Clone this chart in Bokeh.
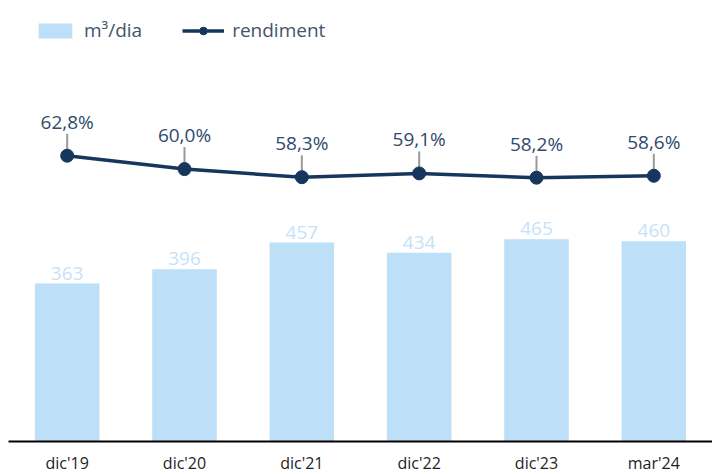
from bokeh.plotting import figure
from bokeh.models import Range1d, FactorRange, ColumnDataSource
from bokeh.core.properties import value
from bokeh.embed import file_html
from bokeh.resources import INLINE

categories = ["dic'19", "dic'20", "dic'21", "dic'22", "dic'23", "mar'24"]
volumes = [363, 396, 457, 434, 465, 460]
rendiment = [62.8, 60.0, 58.3, 59.1, 58.2, 58.6]

FONT = "Open Sans"
BAR_COLOR = "#bddff8"
BAR_LABEL_COLOR = "#c6e2f8"
LINE_COLOR = "#17365d"
PCT_COLOR = "#2f4a6c"
LEGEND_COLOR = "#44546a"

src = ColumnDataSource(dict(
    cat=categories,
    vol=volumes,
    vol_txt=[str(v) for v in volumes],
    r=rendiment,
    r_top=[v + 4.6 for v in rendiment],
    r_txt=[("%.1f" % v).replace(".", ",") + "%" for v in rendiment],
))

p = figure(x_range=FactorRange(*categories), y_range=Range1d(0, 995),
           frame_width=704, frame_height=433, min_border=0,
           min_border_left=8, min_border_top=8,
           y_axis_location=None, toolbar_location=None, output_backend="svg")
p.extra_y_ranges = {"r": Range1d(3.0, 93.6)}

p.vbar(x="cat", top="vol", width=0.55, source=src, fill_color=BAR_COLOR,
       line_color=None, legend_label="m³/dia")
p.text(x="cat", y="vol", text="vol_txt", source=src, text_align="center",
       text_baseline="bottom", y_offset=-4, text_color=BAR_LABEL_COLOR,
       text_font=value(FONT), text_font_size="19px")

p.segment(x0="cat", y0="r", x1="cat", y1="r_top", source=src, y_range_name="r",
          line_color="#9a9a9a", line_width=2)
p.line(x="cat", y="r", source=src, y_range_name="r", line_color=LINE_COLOR,
       line_width=3.5, legend_label="rendiment")
p.scatter(x="cat", y="r", source=src, y_range_name="r", size=13,
          fill_color=LINE_COLOR, line_color=LINE_COLOR, legend_label="rendiment")
p.text(x="cat", y="r", text="r_txt", source=src, y_range_name="r",
       text_align="center", text_baseline="middle", y_offset=-34,
       text_color=PCT_COLOR, text_font=value(FONT), text_font_size="19px")

p.xgrid.grid_line_color = None
p.ygrid.grid_line_color = None
p.outline_line_color = None
p.xaxis.axis_line_color = "black"
p.xaxis.axis_line_width = 2
p.xaxis.major_tick_line_color = None
p.xaxis.minor_tick_line_color = None
p.xaxis.major_tick_out = 0
p.xaxis.major_tick_in = 0
p.xaxis.major_label_standoff = 10
p.xaxis.major_label_text_font = FONT
p.xaxis.major_label_text_font_size = "16px"
p.xaxis.major_label_text_color = "#1e1e1e"

lg = p.legend[0]
lg.location = (26, 398)
lg.orientation = "horizontal"
lg.border_line_color = None
lg.background_fill_alpha = 0
lg.margin = 0
lg.padding = 8
lg.spacing = 40
lg.label_standoff = 8
lg.glyph_width = 42
lg.glyph_height = 19
lg.label_text_font = FONT
lg.label_text_font_size = "19px"
lg.label_text_color = LEGEND_COLOR

open("out.html", "w").write(file_html(p, INLINE))
